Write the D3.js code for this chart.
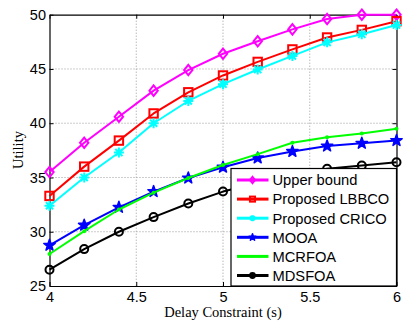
<!DOCTYPE html>
<html>
<head>
<meta charset="utf-8">
<script src="https://cdn.jsdelivr.net/npm/d3@7"></script>
<style>
  body { margin: 0; background: #fff; }
  svg { display: block; }
</style>
</head>
<body>
<div id="chart"></div>
<script>
// delay constraint values (s)
const delays = [4, 4.2, 4.4, 4.6, 4.8, 5, 5.2, 5.4, 5.6, 5.8, 6];

const upperBound = [35.5, 38.2, 40.6, 43.0, 44.9, 46.4, 47.55, 48.65, 49.6, 50.0, 50.0];
const lbbco      = [33.3, 36.0, 38.4, 40.9, 42.85, 44.4, 45.65, 46.8, 47.9, 48.6, 49.4];
const crico      = [32.4, 35.0, 37.3, 40.0, 42.05, 43.6, 44.95, 46.2, 47.45, 48.2, 49.05];
const mooa       = [28.75, 30.6, 32.25, 33.7, 34.95, 35.95, 36.8, 37.4, 37.9, 38.15, 38.4];
const mcrfoa     = [27.95, 30.05, 32.05, 33.6, 34.95, 36.15, 37.15, 38.2, 38.7, 39.05, 39.5];
const mdsfoa     = [26.5, 28.4, 30.0, 31.35, 32.6, 33.7, 34.5, 35.2, 35.8, 36.1, 36.4];

const seriesNames = ['Upper bound', 'Proposed LBBCO', 'Proposed CRICO', 'MOOA', 'MCRFOA', 'MDSFOA'];
const xTicks = [4, 4.5, 5, 5.5, 6];
const yTicks = [25, 30, 35, 40, 45, 50];

const series = [
  {name: seriesNames[0], values: upperBound, color: '#ff00ff', marker: 'diamond'},
  {name: seriesNames[1], values: lbbco, color: '#ff0000', marker: 'square'},
  {name: seriesNames[2], values: crico, color: '#00ffff', marker: 'asterisk'},
  {name: seriesNames[3], values: mooa, color: '#0000ff', marker: 'star'},
  {name: seriesNames[4], values: mcrfoa, color: '#00ff00', marker: 'dot'},
  {name: seriesNames[5], values: mdsfoa, color: '#000000', marker: 'circle'}
];

const W = 403, H = 324;
const margin = {top: 14.7, right: 6.5, bottom: 38, left: 49.5};
const width = W - margin.left - margin.right;
const height = H - margin.top - margin.bottom;

const svg = d3.select('#chart').append('svg')
  .attr('width', W)
  .attr('height', H);

const g = svg.append('g')
  .attr('transform', `translate(${margin.left},${margin.top})`);

const x = d3.scaleLinear().domain([4, 6]).range([0, width]);
const y = d3.scaleLinear().domain([25, 50]).range([height, 0]);

// dotted grid
g.append('g').selectAll('line').data(xTicks.slice(1, -1)).join('line')
  .attr('x1', d => x(d)).attr('x2', d => x(d))
  .attr('y1', 0).attr('y2', height)
  .attr('stroke', '#9a9a9a').attr('stroke-width', 1)
  .attr('stroke-dasharray', '1,2');
g.append('g').selectAll('line').data(yTicks.slice(1, -1)).join('line')
  .attr('y1', d => y(d)).attr('y2', d => y(d))
  .attr('x1', 0).attr('x2', width)
  .attr('stroke', '#9a9a9a').attr('stroke-width', 1)
  .attr('stroke-dasharray', '1,2');

// axes, ticks pointing in
const tickFont = '"Liberation Sans", Arial, sans-serif';
const xAxis = g.append('g')
  .attr('transform', `translate(0,${height})`)
  .call(d3.axisBottom(x).tickValues(xTicks).tickFormat(d3.format('')).tickSizeInner(-4).tickSizeOuter(0).tickPadding(6));
const yAxis = g.append('g')
  .call(d3.axisLeft(y).tickValues(yTicks).tickFormat(d3.format('')).tickSizeInner(-4).tickSizeOuter(0).tickPadding(3.5));
const topAxis = g.append('g')
  .call(d3.axisTop(x).tickValues(xTicks).tickFormat('').tickSizeInner(-4).tickSizeOuter(0));
const rightAxis = g.append('g')
  .attr('transform', `translate(${width},0)`)
  .call(d3.axisRight(y).tickValues(yTicks).tickFormat('').tickSizeInner(-4).tickSizeOuter(0));

[xAxis, yAxis, topAxis, rightAxis].forEach(a => {
  a.select('.domain').attr('stroke', '#000').attr('stroke-width', 1.2);
  a.selectAll('.tick line').attr('stroke', '#000').attr('stroke-width', 1);
  a.selectAll('text').attr('font-family', tickFont).attr('font-size', 14.5).attr('fill', '#000');
});

// axis labels
svg.append('text')
  .attr('x', margin.left + width / 2)
  .attr('y', 317)
  .attr('text-anchor', 'middle')
  .attr('font-family', '"Liberation Serif", "Times New Roman", serif')
  .attr('font-size', 14.5)
  .text('Delay Constraint (s)');

svg.append('text')
  .attr('transform', 'translate(23,150) rotate(-90)')
  .attr('text-anchor', 'middle')
  .attr('font-family', '"Liberation Serif", "Times New Roman", serif')
  .attr('font-size', 14.5)
  .text('Utility');

// marker drawing
function drawMarker(sel, type, color, s) {
  // s = scale factor (1 in plot, smaller in legend)
  if (type === 'diamond') {
    const a = 4.2 * s, b = 5.2 * s;
    sel.append('path').attr('d', `M0,${-b}L${a},0L0,${b}L${-a},0Z`)
      .attr('fill', 'none').attr('stroke', color).attr('stroke-width', 2);
  } else if (type === 'square') {
    const a = 4.2 * s;
    sel.append('rect').attr('x', -a).attr('y', -a).attr('width', 2 * a).attr('height', 2 * a)
      .attr('fill', 'none').attr('stroke', color).attr('stroke-width', 2);
  } else if (type === 'asterisk') {
    const r = 5 * s, d = r * 0.72;
    sel.append('path')
      .attr('d', `M${-r},0L${r},0M0,${-r}L0,${r}M${-d},${-d}L${d},${d}M${-d},${d}L${d},${-d}`)
      .attr('stroke', color).attr('stroke-width', 2).attr('fill', 'none');
  } else if (type === 'star') {
    const R = 6 * s, r = 2.4 * s;
    const pts = d3.range(10).map(i => {
      const ang = -Math.PI / 2 + i * Math.PI / 5;
      const rad = i % 2 === 0 ? R : r;
      return [rad * Math.cos(ang), rad * Math.sin(ang)];
    });
    sel.append('path').attr('d', 'M' + pts.join('L') + 'Z')
      .attr('fill', color).attr('stroke', color).attr('stroke-width', 1.5)
      .attr('stroke-linejoin', 'round');
  } else if (type === 'dot') {
    sel.append('circle').attr('r', 2 * s).attr('fill', color);
  } else if (type === 'circle') {
    sel.append('circle').attr('r', 4 * s)
      .attr('fill', 'none').attr('stroke', color).attr('stroke-width', 2);
  }
}

const line = d3.line()
  .x((d, i) => x(delays[i]))
  .y(d => y(d));

// draw from bottom series up so upper series sit on top like matlab order
series.forEach(s => {
  const sg = g.append('g');
  sg.append('path')
    .datum(s.values)
    .attr('fill', 'none')
    .attr('stroke', s.color)
    .attr('stroke-width', 2)
    .attr('stroke-linejoin', 'round')
    .attr('d', line);
  s.values.forEach((v, i) => {
    const m = sg.append('g').attr('transform', `translate(${x(delays[i])},${y(v)})`);
    drawMarker(m, s.marker, s.color, 1);
  });
});

// legend
const legend = svg.append('g').attr('transform', 'translate(231,168.5)');
legend.append('rect')
  .attr('width', 165.5).attr('height', 117.5)
  .attr('fill', '#fff').attr('stroke', '#000').attr('stroke-width', 1.2);

series.forEach((s, i) => {
  const row = legend.append('g').attr('transform', `translate(0,${11.5 + i * 19.1})`);
  row.append('line')
    .attr('x1', 6).attr('x2', 37.5).attr('y1', 0).attr('y2', 0)
    .attr('stroke', s.color).attr('stroke-width', 3);
  const m = row.append('g').attr('transform', 'translate(21.5,0)');
  drawMarker(m, s.marker, s.color, 0.6);
  row.append('text')
    .attr('x', 41.5).attr('y', 5.3)
    .attr('font-family', tickFont)
    .attr('font-size', 14.7)
    .text(s.name);
});
</script>
</body>
</html>
